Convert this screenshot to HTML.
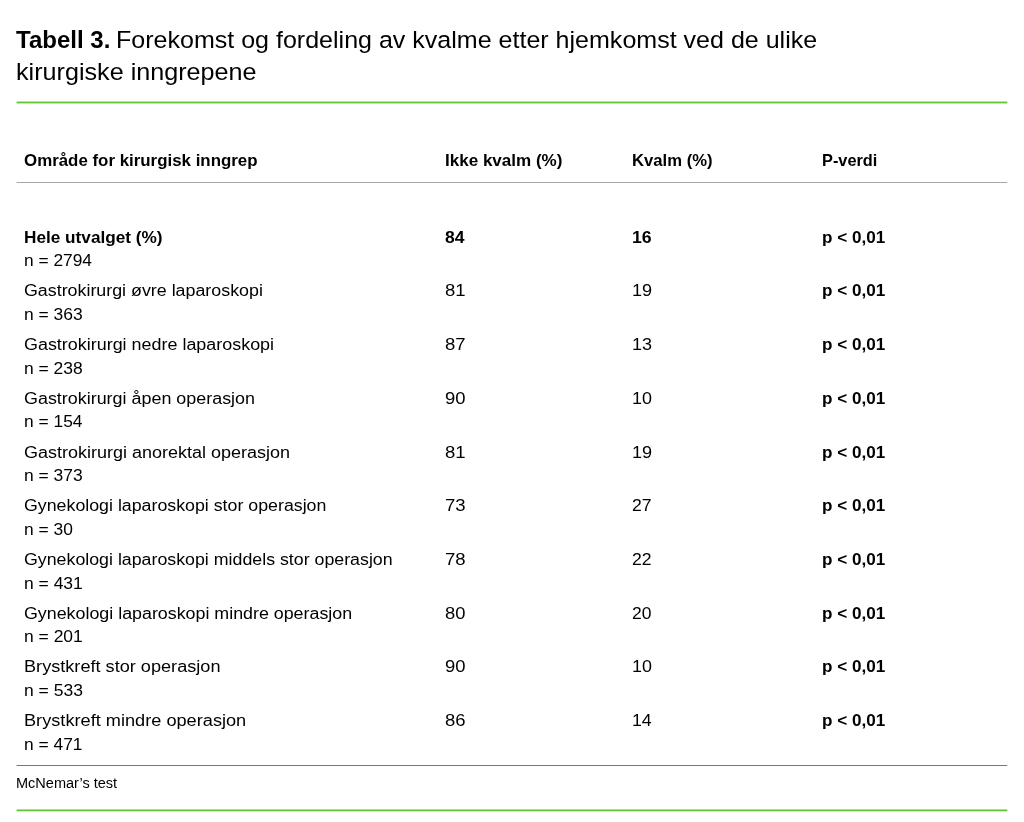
<!DOCTYPE html>
<html lang="no">
<head>
<meta charset="utf-8">
<title>Tabell 3</title>
<style>
html,body{margin:0;padding:0;background:#fff;}
body{width:1024px;height:822px;position:relative;overflow:hidden;font-family:"Liberation Sans",sans-serif;color:#000;}
.s{display:inline-block;transform-origin:0 50%;white-space:nowrap;}
.title{position:absolute;left:0;top:24.0px;margin:0;font-size:23.7px;line-height:32.0px;font-weight:normal;white-space:nowrap;}
.title b{font-weight:bold;}
.title .ln{display:block;position:relative;height:32.0px;}
.title .ln .s{position:absolute;left:0;top:0;}
.rules{position:absolute;left:0;top:0;width:1024px;height:822px;pointer-events:none;}
table{position:absolute;left:0;top:137px;width:1007px;border-collapse:collapse;table-layout:fixed;font-size:17.3px;line-height:23.5px;}
th,td{padding:0;text-align:left;vertical-align:top;white-space:nowrap;overflow:visible;}
th{font-weight:bold;height:45px;padding-top:11.7px;box-sizing:border-box;}
td{height:53.72px;box-sizing:border-box;}
tbody tr:first-child td{height:97.42px;padding-top:43.7px;}
.b{font-weight:bold;}
.foot{position:absolute;left:0;top:773.8px;font-size:13.8px;line-height:20px;}
</style>
</head>
<body>
<h1 class="title"><span class="ln"><b id="t1" class="s" style="transform:scaleX(1.0147);margin-left:16.41px">Tabell 3.</b> <span id="t2" class="s" style="transform:scaleX(1.0567);margin-left:116.39px">Forekomst og fordeling av kvalme etter hjemkomst ved de ulike</span></span><span class="ln"><span id="t3" class="s" style="transform:scaleX(1.0620);margin-left:15.60px">kirurgiske inngrepene</span></span></h1>
<svg class="rules" width="1024" height="822" viewBox="0 0 1024 822" aria-hidden="true"><rect x="16.6" y="101.55" width="990.7" height="1.85" fill="#66c433"/><rect x="16.6" y="182" width="990.7" height="1" fill="#a6a6a6"/><rect x="16.6" y="765" width="990.7" height="1" fill="#787878"/><rect x="16.6" y="809.45" width="990.7" height="1.85" fill="#66c433"/></svg>
<table>
<colgroup><col style="width:445px"><col style="width:188px"><col style="width:190px"><col></colgroup>
<thead>
<tr><th><span id="h1" class="s" style="transform:scaleX(0.9767);margin-left:24.24px">Område for kirurgisk inngrep</span></th><th><span id="h2" class="s" style="transform:scaleX(0.9860);margin-left:0.04px">Ikke kvalm (%)</span></th><th><span id="h3" class="s" style="transform:scaleX(0.9640);margin-left:-1.13px">Kvalm (%)</span></th><th><span id="h4" class="s" style="transform:scaleX(0.9439);margin-left:-0.61px">P-verdi</span></th></tr>
</thead>
<tbody>
<tr><td><b><span id="a1" class="s" style="transform:scaleX(0.9950);margin-left:24.20px">Hele utvalget (%)</span></b><br><span id="n1" class="s" style="transform:scaleX(1.0037);margin-left:24.20px">n = 2794</span></td><td class="b"><span id="b1" class="s" style="transform:scaleX(1.0161);margin-left:-0.01px">84</span></td><td class="b"><span id="c1" class="s" style="transform:scaleX(1.0239);margin-left:-0.84px">16</span></td><td class="b"><span id="d1" class="s" style="transform:scaleX(0.9891);margin-left:-0.68px">p &lt; 0,01</span></td></tr>
<tr><td><span id="a2" class="s" style="transform:scaleX(1.0320);margin-left:24.20px">Gastrokirurgi øvre laparoskopi</span><br><span id="n2" class="s" style="transform:scaleX(1.0105);margin-left:24.20px">n = 363</span></td><td><span id="b2" class="s" style="transform:scaleX(1.0704);margin-left:-0.25px">81</span></td><td><span id="c2" class="s" style="transform:scaleX(1.0455);margin-left:-1.09px">19</span></td><td class="b"><span id="d2" class="s" style="transform:scaleX(0.9891);margin-left:-0.68px">p &lt; 0,01</span></td></tr>
<tr><td><span id="a3" class="s" style="transform:scaleX(1.0372);margin-left:24.20px">Gastrokirurgi nedre laparoskopi</span><br><span id="n3" class="s" style="transform:scaleX(1.0105);margin-left:24.20px">n = 238</span></td><td><span id="b3" class="s" style="transform:scaleX(1.0721);margin-left:-0.25px">87</span></td><td><span id="c3" class="s" style="transform:scaleX(1.0424);margin-left:-1.09px">13</span></td><td class="b"><span id="d3" class="s" style="transform:scaleX(0.9891);margin-left:-0.68px">p &lt; 0,01</span></td></tr>
<tr><td><span id="a4" class="s" style="transform:scaleX(1.0366);margin-left:24.20px">Gastrokirurgi åpen operasjon</span><br><span id="n4" class="s" style="transform:scaleX(1.0054);margin-left:24.20px">n = 154</span></td><td><span id="b4" class="s" style="transform:scaleX(1.0685);margin-left:-0.34px">90</span></td><td><span id="c4" class="s" style="transform:scaleX(1.0378);margin-left:-1.08px">10</span></td><td class="b"><span id="d4" class="s" style="transform:scaleX(0.9891);margin-left:-0.68px">p &lt; 0,01</span></td></tr>
<tr><td><span id="a5" class="s" style="transform:scaleX(1.0415);margin-left:24.20px">Gastrokirurgi anorektal operasjon</span><br><span id="n5" class="s" style="transform:scaleX(1.0105);margin-left:24.20px">n = 373</span></td><td><span id="b5" class="s" style="transform:scaleX(1.0704);margin-left:-0.25px">81</span></td><td><span id="c5" class="s" style="transform:scaleX(1.0455);margin-left:-1.09px">19</span></td><td class="b"><span id="d5" class="s" style="transform:scaleX(0.9891);margin-left:-0.68px">p &lt; 0,01</span></td></tr>
<tr><td><span id="a6" class="s" style="transform:scaleX(1.0287);margin-left:24.20px">Gynekologi laparoskopi stor operasjon</span><br><span id="n6" class="s" style="transform:scaleX(1.0071);margin-left:24.20px">n = 30</span></td><td><span id="b6" class="s" style="transform:scaleX(1.0735);margin-left:-0.36px">73</span></td><td><span id="c6" class="s" style="transform:scaleX(1.0195);margin-left:-0.59px">27</span></td><td class="b"><span id="d6" class="s" style="transform:scaleX(0.9891);margin-left:-0.68px">p &lt; 0,01</span></td></tr>
<tr><td><span id="a7" class="s" style="transform:scaleX(1.0288);margin-left:24.20px">Gynekologi laparoskopi middels stor operasjon</span><br><span id="n7" class="s" style="transform:scaleX(1.0114);margin-left:24.20px">n = 431</span></td><td><span id="b7" class="s" style="transform:scaleX(1.0735);margin-left:-0.36px">78</span></td><td><span id="c7" class="s" style="transform:scaleX(1.0195);margin-left:-0.59px">22</span></td><td class="b"><span id="d7" class="s" style="transform:scaleX(0.9891);margin-left:-0.68px">p &lt; 0,01</span></td></tr>
<tr><td><span id="a8" class="s" style="transform:scaleX(1.0319);margin-left:24.20px">Gynekologi laparoskopi mindre operasjon</span><br><span id="n8" class="s" style="transform:scaleX(1.0114);margin-left:24.20px">n = 201</span></td><td><span id="b8" class="s" style="transform:scaleX(1.0630);margin-left:-0.24px">80</span></td><td><span id="c8" class="s" style="transform:scaleX(1.0109);margin-left:-0.58px">20</span></td><td class="b"><span id="d8" class="s" style="transform:scaleX(0.9891);margin-left:-0.68px">p &lt; 0,01</span></td></tr>
<tr><td><span id="a9" class="s" style="transform:scaleX(1.0492);margin-left:24.20px">Brystkreft stor operasjon</span><br><span id="n9" class="s" style="transform:scaleX(1.0141);margin-left:24.20px">n = 533</span></td><td><span id="b9" class="s" style="transform:scaleX(1.0685);margin-left:-0.34px">90</span></td><td><span id="c9" class="s" style="transform:scaleX(1.0378);margin-left:-1.08px">10</span></td><td class="b"><span id="d9" class="s" style="transform:scaleX(0.9891);margin-left:-0.68px">p &lt; 0,01</span></td></tr>
<tr><td><span id="a10" class="s" style="transform:scaleX(1.0517);margin-left:24.20px">Brystkreft mindre operasjon</span><br><span id="n10" class="s" style="transform:scaleX(1.0060);margin-left:24.20px">n = 471</span></td><td><span id="b10" class="s" style="transform:scaleX(1.0692);margin-left:-0.25px">86</span></td><td><span id="c10" class="s" style="transform:scaleX(1.0251);margin-left:-1.06px">14</span></td><td class="b"><span id="d10" class="s" style="transform:scaleX(0.9891);margin-left:-0.68px">p &lt; 0,01</span></td></tr>
</tbody>
</table>
<div class="foot"><span id="f1" class="s" style="transform:scaleX(1.0528);margin-left:15.79px">McNemar’s test</span></div>
</body>
</html>
